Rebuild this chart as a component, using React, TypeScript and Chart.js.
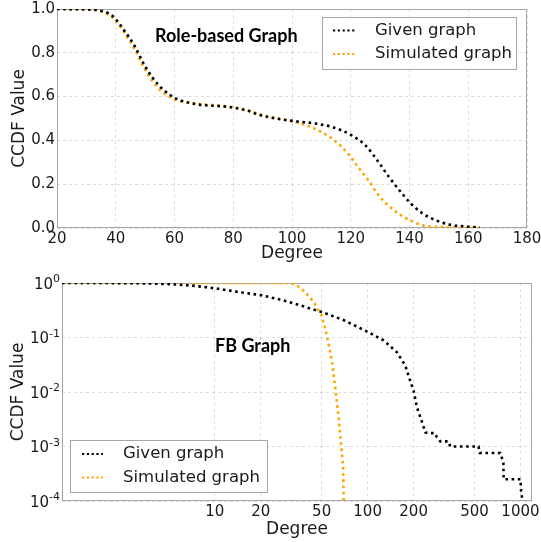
import React, { useEffect, useRef } from "react";
import { Chart, registerables } from "chart.js";

Chart.register(...registerables);

// ---------- data ----------
const seriesLabels = ["Given graph", "Simulated graph"];
const seriesColors = ["#000000", "#ffa500"];

// Role-based graph (linear axes)
const roleGivenDegree = [20, 30, 34, 38, 40, 43, 46.5, 49.5, 52.5, 56, 60, 62, 65, 69, 76, 80, 85, 89, 96, 100, 108, 113.5, 117, 120.5, 125, 129.5, 133, 137.5, 140.5, 144.5, 149, 153.5, 160, 164];
const roleGivenCcdf = [1.0, 0.998, 0.994, 0.977, 0.954, 0.9, 0.83, 0.75, 0.687, 0.634, 0.595, 0.583, 0.572, 0.562, 0.556, 0.55, 0.535, 0.516, 0.497, 0.489, 0.477, 0.462, 0.445, 0.422, 0.377, 0.3, 0.233, 0.157, 0.111, 0.066, 0.035, 0.016, 0.006, 0.002];
const roleSimDegree = [20, 30, 34, 38, 40, 43, 46.5, 49.5, 52.5, 56, 60, 62, 65, 69, 76, 80, 85, 89, 96, 100, 105.5, 110, 114.5, 119, 122.5, 126, 129.5, 134, 138.5, 144.5, 150, 155, 164];
const roleSimCcdf = [1.0, 0.998, 0.993, 0.97, 0.946, 0.89, 0.815, 0.735, 0.67, 0.62, 0.588, 0.579, 0.572, 0.565, 0.558, 0.55, 0.537, 0.518, 0.498, 0.488, 0.466, 0.438, 0.4, 0.34, 0.278, 0.218, 0.149, 0.089, 0.047, 0.012, 0.005, 0.002, 0.0];
const roleXTicks = [20, 40, 60, 80, 100, 120, 140, 160, 180];
const roleYTicks = [0, 0.2, 0.4, 0.6, 0.8, 1.0];

// FB graph (log-log axes)
const fbGivenDegree = [1, 2, 3, 4, 5, 7, 10, 15, 20, 28, 36, 50, 70, 100, 127, 155, 176, 190, 200, 210, 221, 239, 257, 276, 283, 299, 338, 347, 532, 541, 738, 758, 773, 776, 1000, 1010, 1045];
const fbGivenCcdf = [1, 0.998, 0.99, 0.975, 0.955, 0.9, 0.8, 0.67, 0.6, 0.48, 0.39, 0.295, 0.207, 0.127, 0.089, 0.054, 0.031, 0.016, 0.0105, 0.0053, 0.0035, 0.0018, 0.00176, 0.00176, 0.0015, 0.00124, 0.00124, 0.001, 0.001, 0.00076, 0.00076, 0.0006, 0.0005, 0.00025, 0.00025, 0.00015, 0.00008];
const fbSimDegree = [1, 10, 20, 29, 31.6, 34.5, 39, 44.3, 50, 54.2, 58.5, 61.5, 64.6, 67, 69, 69.7, 70.3];
const fbSimCcdf = [1, 1, 1, 0.998, 0.985, 0.9, 0.68, 0.45, 0.25, 0.108, 0.036, 0.0116, 0.0033, 0.00107, 0.00046, 0.00011, 0.00004];
const fbXTicks = [10, 20, 50, 100, 200, 500, 1000];
const fbYTicks = [0.0001, 0.001, 0.01, 0.1, 1];

// ---------- helpers ----------
const TXT = "#1a1a1a";
const FONT = "'DejaVu Sans', sans-serif";

const zip = (xs: number[], ys: number[]) => xs.map((x, i) => ({ x, y: ys[i] }));

const overlayPlugin = {
  id: "overlay",
  beforeDatasetsDraw(chart: any) {
    const { ctx, chartArea } = chart;
    const l = Math.round(chartArea.left) + 0.5;
    const t = Math.round(chartArea.top) + 0.5;
    const r = Math.round(chartArea.right) - 0.5;
    const b = Math.round(chartArea.bottom) - 0.5;
    ctx.save();
    ctx.strokeStyle = "#a6a6a6";
    ctx.lineWidth = 1;
    ctx.setLineDash([]);
    ctx.strokeRect(l, t, r - l, b - t);
    ctx.restore();
  },
  afterDraw(chart: any, _args: any, opts: any) {
    const { ctx, chartArea } = chart;
    ctx.save();
    // power-of-ten tick labels with raised exponent
    if (opts.powerTicks) {
      const ys = chart.scales.y;
      const right = chartArea.left - 2;
      opts.powerTicks.forEach((v: number) => {
        const py = ys.getPixelForValue(v);
        const exp = String(Math.round(Math.log10(v)));
        ctx.font = "11px " + FONT;
        const ew = ctx.measureText(exp).width;
        ctx.font = "15px " + FONT;
        const bw = ctx.measureText("10").width;
        ctx.fillStyle = TXT;
        ctx.textAlign = "left";
        ctx.textBaseline = "alphabetic";
        ctx.fillText("10", right - ew - bw, py + 5.5);
        ctx.font = "11px " + FONT;
        ctx.fillText(exp, right - ew, py - 1);
      });
    }
    // title
    ctx.fillStyle = "#000";
    ctx.font = opts.titleFont;
    ctx.textBaseline = "alphabetic";
    ctx.textAlign = "left";
    ctx.fillText(opts.title, opts.titleX, opts.titleY);
    // legend
    const lg = opts.legend;
    ctx.fillStyle = "#ffffff";
    ctx.fillRect(lg.x, lg.y, lg.w, lg.h);
    ctx.strokeStyle = "#a6a6a6";
    ctx.lineWidth = 1;
    ctx.strokeRect(lg.x + 0.5, lg.y + 0.5, lg.w - 1, lg.h - 1);
    ctx.font = "16.5px " + FONT;
    ctx.textBaseline = "middle";
    chart.data.datasets.forEach((ds: any, i: number) => {
      const yy = lg.rowY[i];
      ctx.strokeStyle = ds.borderColor;
      ctx.lineWidth = 2.2;
      ctx.setLineDash([2.2, 2.6]);
      ctx.beginPath();
      ctx.moveTo(lg.sx0, yy);
      ctx.lineTo(lg.sx1, yy);
      ctx.stroke();
      ctx.setLineDash([]);
      ctx.fillStyle = TXT;
      ctx.fillText(ds.label, lg.tx, yy);
    });
    ctx.restore();
  },
};

const lineDs = (label: string, color: string, data: any[], smooth: boolean) => ({
  label,
  data,
  borderColor: color,
  backgroundColor: color,
  borderWidth: 2.6,
  borderDash: [2.6, 3.6],
  borderCapStyle: "butt",
  pointRadius: 0,
  fill: false,
  tension: 0,
  cubicInterpolationMode: smooth ? "monotone" : "default",
});

const tickFont = { family: FONT, size: 15 };
const titleFont = { family: FONT, size: 17 };

function roleConfig(): any {
  return {
    type: "line",
    data: {
      datasets: [
        lineDs(seriesLabels[0], seriesColors[0], zip(roleGivenDegree, roleGivenCcdf), true),
        lineDs(seriesLabels[1], seriesColors[1], zip(roleSimDegree, roleSimCcdf), true),
      ],
    },
    options: {
      responsive: false,
      animation: false,
      layout: { padding: { top: 9, right: 14, left: 0, bottom: 0 } },
      plugins: {
        legend: { display: false },
        tooltip: { enabled: false },
        overlay: {
          title: "Role-based Graph",
          titleFont: "bold 18px Lato, sans-serif",
          titleX: 155,
          titleY: 42,
          legend: { x: 322, y: 17, w: 195, h: 53, rowY: [30.5, 54], sx0: 333, sx1: 356, tx: 375 },
        },
      },
      scales: {
        x: {
          type: "linear",
          min: 20,
          max: 180,
          afterBuildTicks: (s: any) => { s.ticks = roleXTicks.map((v) => ({ value: v })); },
          afterFit: (s: any) => { s.height = 37; s.paddingLeft = 0; s.paddingRight = 0; },
          ticks: { font: tickFont, color: TXT, padding: 2, maxRotation: 0, autoSkip: false, callback: (v: any) => String(v) },
          grid: { color: "rgba(0,0,0,0.13)", drawTicks: false, lineWidth: 1 },
          border: { display: false, dash: [3, 3] },
          title: { display: true, text: "Degree", font: titleFont, color: TXT, padding: { top: 0, bottom: 1 } },
        },
        y: {
          type: "linear",
          min: 0,
          max: 1,
          afterBuildTicks: (s: any) => { s.ticks = roleYTicks.map((v) => ({ value: v })); },
          afterFit: (s: any) => { s.width = 57; s.paddingTop = 0; s.paddingBottom = 0; },
          ticks: { font: tickFont, color: TXT, padding: 2, autoSkip: false, callback: (v: any) => Number(v).toFixed(1) },
          grid: { color: "rgba(0,0,0,0.13)", drawTicks: false, lineWidth: 1 },
          border: { display: false, dash: [3, 3] },
          title: { display: true, text: "CCDF Value", font: titleFont, color: TXT, padding: { top: 9, bottom: 0 } },
        },
      },
    },
    plugins: [overlayPlugin],
  };
}

function fbConfig(): any {
  return {
    type: "line",
    data: {
      datasets: [
        lineDs(seriesLabels[0], seriesColors[0], zip(fbGivenDegree, fbGivenCcdf), false),
        lineDs(seriesLabels[1], seriesColors[1], zip(fbSimDegree, fbSimCcdf), false),
      ],
    },
    options: {
      responsive: false,
      animation: false,
      layout: { padding: { top: 13, right: 9, left: 0, bottom: 0 } },
      plugins: {
        legend: { display: false },
        tooltip: { enabled: false },
        overlay: {
          title: "FB Graph",
          titleFont: "bold 18px Lato, sans-serif",
          titleX: 215,
          titleY: 82,
          powerTicks: fbYTicks,
          legend: { x: 70, y: 170, w: 198, h: 53, rowY: [184, 207.5], sx0: 82, sx1: 103, tx: 123 },
        },
      },
      scales: {
        x: {
          type: "logarithmic",
          min: 1,
          max: 1190,
          afterBuildTicks: (s: any) => { s.ticks = fbXTicks.map((v) => ({ value: v })); },
          afterFit: (s: any) => { s.height = 41; s.paddingLeft = 0; s.paddingRight = 0; },
          ticks: { font: tickFont, color: TXT, padding: 2, maxRotation: 0, autoSkip: false, callback: (v: any) => String(v) },
          grid: { color: "rgba(0,0,0,0.13)", drawTicks: false, lineWidth: 1 },
          border: { display: false, dash: [3, 3] },
          title: { display: true, text: "Degree", font: titleFont, color: TXT, padding: { top: 0, bottom: 2 } },
        },
        y: {
          type: "logarithmic",
          min: 0.0001,
          max: 1,
          afterBuildTicks: (s: any) => { s.ticks = fbYTicks.map((v) => ({ value: v })); },
          afterFit: (s: any) => { s.width = 62; s.paddingTop = 0; s.paddingBottom = 0; },
          ticks: { display: false, autoSkip: false },
          grid: { color: "rgba(0,0,0,0.13)", drawTicks: false, lineWidth: 1 },
          border: { display: false, dash: [3, 3] },
          title: { display: true, text: "CCDF Value", font: titleFont, color: TXT, padding: { top: 8.5, bottom: 0 } },
        },
      },
    },
    plugins: [overlayPlugin],
  };
}

export default function App() {
  const topRef = useRef<HTMLCanvasElement | null>(null);
  const botRef = useRef<HTMLCanvasElement | null>(null);

  useEffect(() => {
    const charts: Chart[] = [];
    if (topRef.current) charts.push(new Chart(topRef.current, roleConfig()));
    if (botRef.current) charts.push(new Chart(botRef.current, fbConfig()));
    return () => charts.forEach((c) => c.destroy());
  }, []);

  return (
    <div style={{ position: "absolute", left: 0, top: 0, width: 541, height: 542, background: "#fff" }}>
      <canvas ref={topRef} width={541} height={265} style={{ position: "absolute", left: 0, top: 0 }} />
      <canvas ref={botRef} width={541} height={272} style={{ position: "absolute", left: 0, top: 270 }} />
    </div>
  );
}
